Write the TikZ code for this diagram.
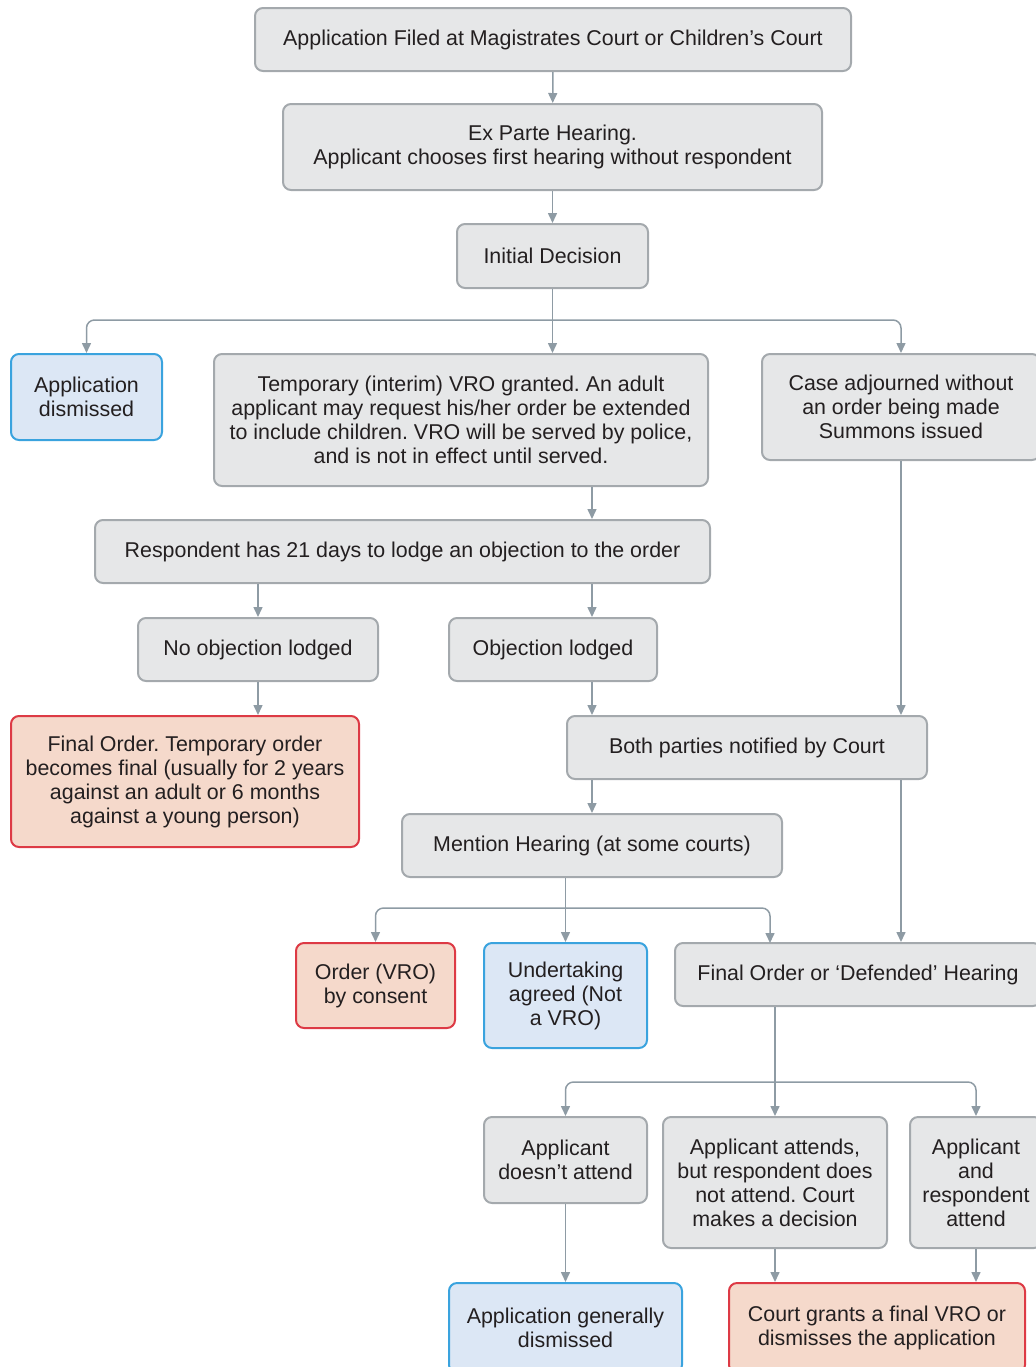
\documentclass[tikz,border=0pt]{standalone}
\usepackage{fontspec}
\setmainfont{Liberation Sans}
\usepackage{tikz}
\usetikzlibrary{arrows.meta}
\frenchspacing

\definecolor{greyfill}{HTML}{E6E7E8}
\definecolor{greyline}{HTML}{A4A9AD}
\definecolor{bluefill}{HTML}{DCE7F5}
\definecolor{blueline}{HTML}{3AA3DE}
\definecolor{redfill}{HTML}{F5D9CB}
\definecolor{redline}{HTML}{DD3A45}
\definecolor{arrowgrey}{HTML}{8E9BA4}
\definecolor{textgrey}{HTML}{231F20}

\tikzset{
  box/.style={draw=greyline, fill=greyfill, line width=1pt, rounded corners=4pt,
    align=center, inner sep=0pt, text=textgrey,
    font=\fontsize{10.7}{12}\selectfont},
  bluebox/.style={box, draw=blueline, fill=bluefill},
  redbox/.style={box, draw=redline, fill=redfill},
  arr/.style={draw=arrowgrey, line width=0.75pt,
    -{Triangle[length=5pt,width=4.5pt]}},
  branchline/.style={arr, rounded corners=4pt},
}

\begin{document}
\begin{tikzpicture}[x=0.5pt,y=-0.5pt]
  \useasboundingbox (0,0) rectangle (1035,1367);

  % top of the chart
  \node[box, minimum width=298pt, minimum height=31.5pt] (filed) at (553,39.5)
    {Application Filed at Magistrates Court or Children’s Court};
  \node[box, minimum width=269.5pt, minimum height=43pt] (exparte) at (552.5,147)
    {Ex Parte Hearing.\\Applicant chooses first hearing without respondent};
  \node[box, minimum width=95.5pt, minimum height=32pt] (initial) at (552.5,256)
    {Initial Decision};

  % first decision
  \node[bluebox, minimum width=75.5pt, minimum height=43pt] (dismissed) at (86.5,397)
    {Application\\dismissed};
  \node[box, minimum width=247pt, minimum height=66pt] (temp) at (461,420)
    {Temporary (interim) VRO granted. An adult\\applicant may request his/her order be extended\\to include children. VRO will be served by police,\\and is not in effect until served.};
  \node[box, minimum width=139pt, minimum height=53pt] (adjourned) at (901,407)
    {Case adjourned without\\an order being made\\Summons issued};

  % objection
  \node[box, minimum width=307.5pt, minimum height=31.5pt] (lodge) at (402.5,551.5)
    {Respondent has 21 days to lodge an objection to the order};
  \node[box, minimum width=120pt, minimum height=31.5pt] (noobj) at (258,649.5)
    {No objection lodged};
  \node[box, minimum width=104pt, minimum height=31.5pt] (obj) at (553,649.5)
    {Objection lodged};
  \node[redbox, minimum width=174pt, minimum height=65.5pt] (finalorder) at (185,781.5)
    {Final Order. Temporary order\\becomes final (usually for 2 years\\against an adult or 6 months\\against a young person)};
  \node[box, minimum width=180pt, minimum height=31.5pt] (notified) at (747,747.5)
    {Both parties notified by Court};
  \node[box, minimum width=190pt, minimum height=31.5pt] (mention) at (592,845.5)
    {Mention Hearing (at some courts)};

  % after mention hearing
  \node[redbox, minimum width=79.5pt, minimum height=42.5pt] (consent) at (375.5,985.5)
    {Order (VRO)\\by consent};
  \node[bluebox, minimum width=81.5pt, minimum height=52.5pt] (undertaking) at (565.5,995.5)
    {Undertaking\\agreed (Not\\a VRO)};
  \node[box, minimum width=183pt, minimum height=31.5pt] (defended) at (858,974.5)
    {Final Order or ‘Defended’ Hearing};

  % hearing outcomes
  \node[box, minimum width=81.5pt, minimum height=43pt] (noattend) at (565.5,1160)
    {Applicant\\doesn’t attend};
  \node[box, minimum width=112pt, minimum height=65.5pt] (oneattend) at (775,1182.5)
    {Applicant attends,\\but respondent does\\not attend. Court\\makes a decision};
  \node[box, minimum width=66pt, minimum height=65.5pt] (bothattend) at (976,1182.5)
    {Applicant\\and\\respondent\\attend};
  \node[bluebox, minimum width=116.5pt, minimum height=45pt] (gendismissed) at (565.5,1328)
    {Application generally\\dismissed};
  \node[redbox, minimum width=148pt, minimum height=45pt] (grants) at (877,1328)
    {Court grants a final VRO or\\dismisses the application};

  \coordinate (split1) at (552.5,320);
  \coordinate (split2) at (566,908);
  \coordinate (split3) at (775,1082);
  \coordinate (defin) at (770,943);

  % connectors
  \draw[arr] (filed) -- (exparte);
  \draw[arr] (exparte) -- (initial);
  \draw[arr] (initial) -- (temp.north -| initial);
  \draw[branchline] (split1) -| (dismissed);
  \draw[branchline] (split1) -| (adjourned);
  \draw[arr] (temp.south -| mention) -- (lodge.north -| mention);
  \draw[arr] (lodge.south -| noobj) -- (noobj);
  \draw[arr] (lodge.south -| mention) -- (obj.north -| mention);
  \draw[arr] (noobj) -- (finalorder.north -| noobj);
  \draw[arr] (obj.south -| mention) -- (notified.north -| mention);
  \draw[arr] (adjourned) -- (notified.north -| adjourned);
  \draw[arr] (notified.south -| mention) -- (mention);
  \draw[arr] (notified.south -| adjourned) -- (defended.north -| adjourned);
  \draw[arr] (mention.south -| undertaking) -- (undertaking);
  \draw[branchline] (split2) -| (consent);
  \draw[branchline] (split2) -| (defin);
  \draw[arr] (defended.south -| oneattend) -- (oneattend);
  \draw[branchline] (split3) -| (noattend);
  \draw[branchline] (split3) -| (bothattend);
  \draw[arr] (noattend) -- (gendismissed);
  \draw[arr] (oneattend) -- (grants.north -| oneattend);
  \draw[arr] (bothattend) -- (grants.north -| bothattend);
\end{tikzpicture}
\end{document}
